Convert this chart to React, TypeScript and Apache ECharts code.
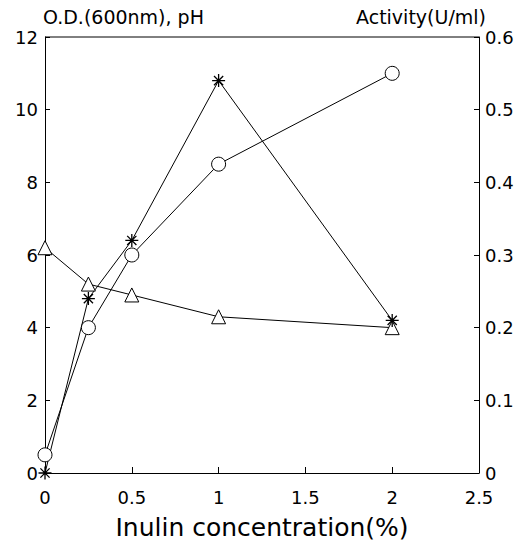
import React, { useEffect, useRef } from "react";
import * as echarts from "echarts";

const xValues = [0, 0.25, 0.5, 1, 2];
const odValues = [0.5, 4.0, 6.0, 8.5, 11.0];
const phValues = [6.2, 5.2, 4.9, 4.3, 4.0];
const activityValues = [0, 0.24, 0.32, 0.54, 0.21];

const xTicks = [0, 0.5, 1, 1.5, 2, 2.5];

const FONT = "DejaVu Sans";
const asterisk =
  "path://M0,-10L0,10M-10,0L10,0M-7.07,-7.07L7.07,7.07M-7.07,7.07L7.07,-7.07";

export default function App() {
  const ref = useRef<HTMLDivElement>(null);
  useEffect(() => {
    if (!ref.current) return;
    const chart = echarts.init(ref.current, null, { renderer: "svg" });
    const pair = (ys: number[]) => xValues.map((x, i) => [x, ys[i]]);
    const lineStyle = { color: "#000", width: 1 };
    chart.setOption({
      animation: false,
      backgroundColor: "#fff",
      textStyle: { fontFamily: FONT, color: "#000" },
      grid: { left: 45, right: 45, top: 37, bottom: 74, outerBoundsMode: "none", containLabel: false },
      xAxis: {
        type: "value",
        min: 0,
        max: 2.5,
        interval: 0.5,
        name: "Inulin concentration(%)",
        nameLocation: "middle",
        nameGap: 42,
        nameTextStyle: { fontSize: 25, color: "#000", fontFamily: FONT },
        axisLine: { show: true, onZero: false, lineStyle: { color: "#000", width: 1 } },
        axisTick: { show: true, inside: true, length: 6, lineStyle: { color: "#000" } },
        axisLabel: {
          fontSize: 18,
          color: "#000",
          margin: 15,
          fontFamily: FONT,
          formatter: (v: number) => (xTicks.includes(v) ? String(v) : ""),
        },
        splitLine: { show: false },
      },
      yAxis: [
        {
          type: "value",
          min: 0,
          max: 12,
          interval: 2,
          position: "left",
          name: "O.D.(600nm), pH",
          nameLocation: "end",
          nameGap: 11,
          nameTextStyle: { fontSize: 19, color: "#000", align: "left", padding: [0, 0, 0, -2], fontFamily: FONT },
          axisLine: { show: true, lineStyle: { color: "#000", width: 1 } },
          axisTick: { show: true, inside: true, length: 5, lineStyle: { color: "#000" } },
          axisLabel: { fontSize: 18, color: "#000", margin: 7, fontFamily: FONT },
          splitLine: { show: false },
        },
        {
          type: "value",
          min: 0,
          max: 0.6,
          interval: 0.1,
          position: "right",
          name: "Activity(U/ml)",
          nameLocation: "end",
          nameGap: 11,
          nameTextStyle: { fontSize: 19, color: "#000", align: "right", padding: [0, -7, 0, 0], fontFamily: FONT },
          axisLine: { show: true, lineStyle: { color: "#000", width: 1 } },
          axisTick: { show: true, inside: true, length: 5, lineStyle: { color: "#000" } },
          axisLabel: { fontSize: 18, color: "#000", margin: 6, fontFamily: FONT },
          splitLine: { show: false },
        },
      ],
      graphic: [
        {
          type: "line",
          shape: { x1: 45, y1: 37, x2: 479, y2: 37 },
          style: { stroke: "#000", lineWidth: 1 },
        },
      ],
      series: [
        {
          name: "pH",
          type: "line",
          yAxisIndex: 0,
          data: pair(phValues),
          symbol: "triangle",
          symbolSize: 14,
          lineStyle,
          itemStyle: { color: "#fff", borderColor: "#000", borderWidth: 1 },
        },
        {
          name: "O.D.",
          type: "line",
          yAxisIndex: 0,
          data: pair(odValues),
          symbol: "circle",
          symbolSize: 14,
          lineStyle,
          itemStyle: { color: "#fff", borderColor: "#000", borderWidth: 1 },
        },
        {
          name: "Activity",
          type: "line",
          yAxisIndex: 1,
          data: pair(activityValues),
          symbol: asterisk,
          symbolSize: 13,
          lineStyle,
          itemStyle: { color: "none", borderColor: "#000", borderWidth: 1.3 },
        },
      ],
    });
    return () => chart.dispose();
  }, []);
  return <div ref={ref} style={{ width: 524, height: 547, marginLeft: -8, marginTop: -8 }} />;
}
